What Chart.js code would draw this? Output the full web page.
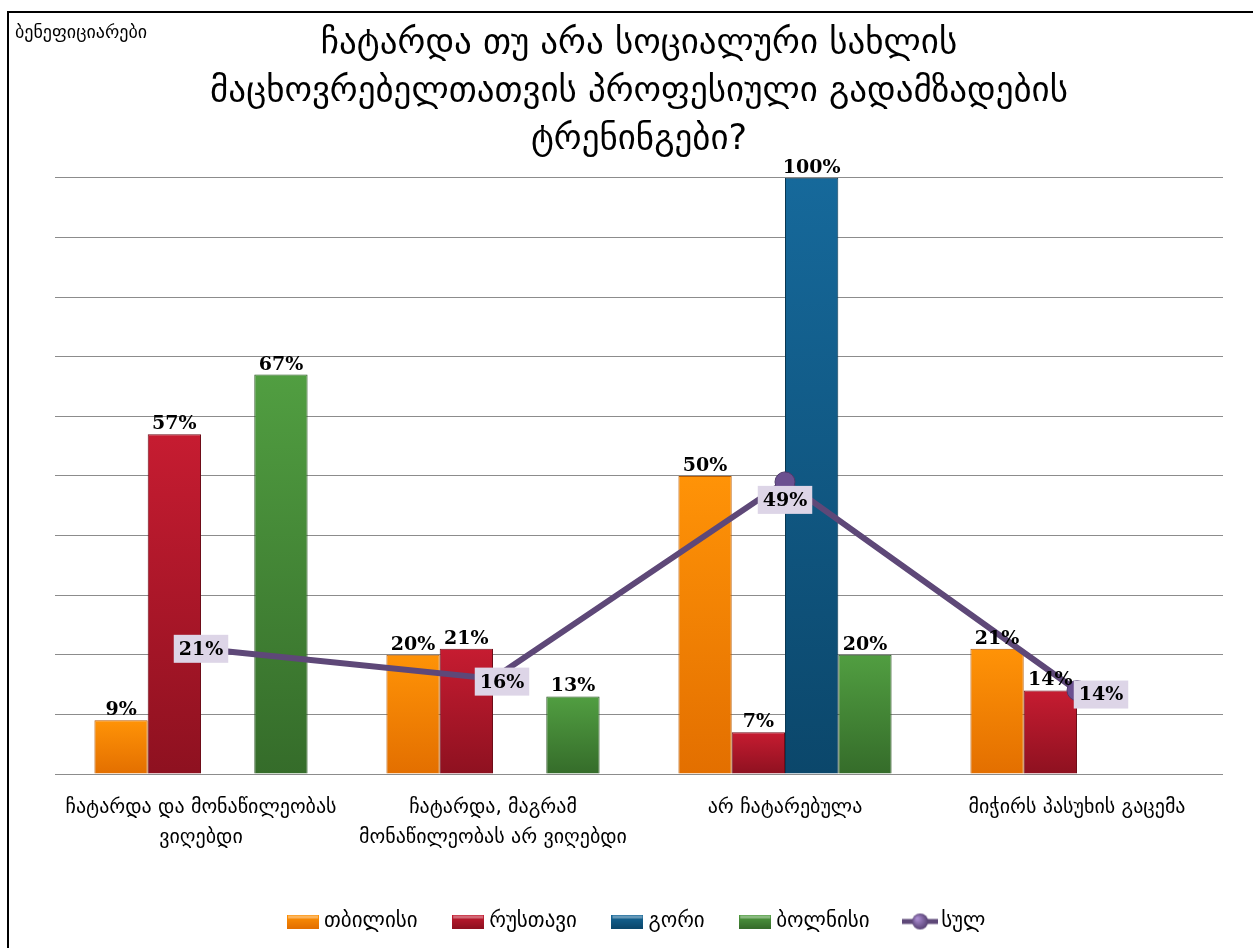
<!DOCTYPE html>
<html>
<head>
<meta charset="utf-8">
<script src="https://cdn.jsdelivr.net/npm/chart.js@4/dist/chart.umd.min.js"></script>
<style>
  html, body { margin: 0; padding: 0; background: #fff; }
  #wrap { position: relative; width: 1253px; height: 948px; overflow: hidden; }
  #frame { position: absolute; left: 7px; top: 11px; width: 1400px; height: 1000px;
           border-left: 2px solid #000; border-top: 2px solid #000; }
  #unit { position: absolute; left: 15px; top: 21px; font: 18px "DejaVu Sans"; color: #000; }
  canvas { position: absolute; left: 0; top: 0; }
</style>
</head>
<body>
<div id="wrap">
  <div id="frame"></div>
  <canvas id="graph" width="1253" height="948"></canvas>
  <div id="unit">ბენეფიციარები</div>
</div>
<script>
let categories = [
    ["ჩატარდა და მონაწილეობას", "ვიღებდი"],
    ["ჩატარდა, მაგრამ", "მონაწილეობას არ ვიღებდი"],
    "არ ჩატარებულა",
    "მიჭირს პასუხის გაცემა"
];
let titleLines = [
    "ჩატარდა თუ არა სოციალური სახლის",
    "მაცხოვრებელთათვის პროფესიული გადამზადების",
    "ტრენინგები?"
];
let tbilisi = [9, 20, 50, 21];
let rustavi = [57, 21, 7, 14];
let gori = [null, null, 100, null];
let bolnisi = [67, 13, 20, null];
let total = [21, 16, 49, 14];

// top / bottom / edge colour of each bar series
let barColors = {
    "თბილისი": ["#ff9307", "#e36f00", "#b85a00"],
    "რუსთავი": ["#c61c31", "#8e1120", "#6e0c18"],
    "გორი": ["#16699b", "#0b476b", "#083752"],
    "ბოლნისი": ["#519e41", "#356c2a", "#27531f"]
};
let lineColor = "#5e4878";

function barGradient(ctx){
    let chart = ctx.chart;
    let cols = barColors[ctx.dataset.label];
    let y = chart.scales.y;
    if(!y || ctx.raw == null) return cols[0];
    let top = y.getPixelForValue(ctx.raw);
    let base = y.getPixelForValue(0);
    if(!isFinite(top) || top === base) return cols[0];
    let g = chart.ctx.createLinearGradient(0, top, 0, base);
    g.addColorStop(0, cols[0]);
    g.addColorStop(1, cols[1]);
    return g;
}

function makeBar(label, values){
    return {
        type: "bar",
        label: label,
        data: values,
        order: 2,
        backgroundColor: barGradient,
        borderColor: barColors[label][2],
        borderWidth: 1,
        categoryPercentage: 0.73,
        barPercentage: 1
    };
}

function swatch(label){
    let c = document.createElement("canvas");
    c.width = 32; c.height = 14;
    let x = c.getContext("2d");
    let cols = barColors[label];
    let g = x.createLinearGradient(0, 0, 0, 14);
    g.addColorStop(0, cols[0]);
    g.addColorStop(1, cols[1]);
    x.fillStyle = g;
    x.fillRect(0, 0, 32, 14);
    x.fillStyle = "rgba(255,255,255,0.35)";
    x.fillRect(1, 1, 30, 3);
    return c;
}

function lineSwatch(){
    let c = document.createElement("canvas");
    c.width = 36; c.height = 18;
    let x = c.getContext("2d");
    x.strokeStyle = lineColor;
    x.lineWidth = 5;
    x.beginPath(); x.moveTo(0, 9); x.lineTo(36, 9); x.stroke();
    let g = x.createRadialGradient(15, 6, 1, 18, 9, 9);
    g.addColorStop(0, "#a98bcf");
    g.addColorStop(1, "#4f3a6b");
    x.fillStyle = g;
    x.beginPath(); x.arc(18, 9, 8, 0, Math.PI * 2); x.fill();
    return c;
}

// label offsets for the "total" line, relative to each point
let lineLabelShift = [[0, 0], [9, 3], [0, 18], [24, 4]];

const valueLabels = {
    id: "valueLabels",
    afterDatasetsDraw(chart){
        let ctx = chart.ctx;
        ctx.save();
        ctx.font = "bold 19px 'DejaVu Serif'";
        ctx.textAlign = "center";
        ctx.textBaseline = "middle";
        chart.data.datasets.forEach((ds, i) => {
            let meta = chart.getDatasetMeta(i);
            meta.data.forEach((el, j) => {
                let v = ds.data[j];
                if(v == null) return;
                let txt = v + "%";
                if(ds.type === "bar"){
                    ctx.fillStyle = "#000";
                    ctx.fillText(txt, el.x, el.y - 10);
                } else {
                    let sx = el.x + lineLabelShift[j][0];
                    let sy = el.y + lineLabelShift[j][1];
                    let w = ctx.measureText(txt).width + 10;
                    ctx.fillStyle = "#ddd5e7";
                    ctx.fillRect(sx - w / 2, sy - 14, w, 28);
                    ctx.fillStyle = "#000";
                    ctx.fillText(txt, sx, sy + 1);
                }
            });
        });
        ctx.restore();
    }
};

const data = {
    labels: categories,
    datasets: [
        {
            type: "line",
            label: "სულ",
            data: total,
            order: 0,
            borderColor: lineColor,
            borderWidth: 6,
            pointRadius: 10,
            pointBackgroundColor: "#6b5090",
            pointBorderColor: "#4f3a6b",
            pointBorderWidth: 1,
            tension: 0
        },
        makeBar("თბილისი", tbilisi),
        makeBar("რუსთავი", rustavi),
        makeBar("გორი", gori),
        makeBar("ბოლნისი", bolnisi)
    ]
};

const config = {
    type: "bar",
    data: data,
    options: {
        responsive: false,
        animation: false,
        layout: { padding: { left: 55, right: 30, top: 0, bottom: 6 } },
        plugins: {
            title: {
                display: true,
                text: titleLines,
                color: "#000",
                font: { family: "DejaVu Sans", size: 35, weight: "normal", lineHeight: 1.37 },
                padding: { top: 20, bottom: 14 }
            },
            legend: {
                position: "bottom",
                labels: {
                    usePointStyle: true,
                    color: "#000",
                    font: { family: "DejaVu Sans", size: 21 },
                    padding: 40,
                    sort: (a, b) => a.datasetIndex === 0 ? 1 : (b.datasetIndex === 0 ? -1 : a.datasetIndex - b.datasetIndex),
                    generateLabels(chart){
                        return chart.data.datasets.map((ds, i) => ({
                            text: ds.label,
                            datasetIndex: i,
                            fontColor: "#000",
                            pointStyle: ds.type === "line" ? lineSwatch() : swatch(ds.label),
                            hidden: false
                        }));
                    }
                }
            },
            tooltip: { enabled: false }
        },
        scales: {
            x: {
                grid: { display: false },
                border: { display: false },
                ticks: {
                    color: "#000",
                    padding: 11,
                    maxRotation: 0,
                    autoSkip: false,
                    font: { family: "DejaVu Sans", size: 20, lineHeight: 1.5 }
                },
                afterFit(scale){ scale.height = 97; }
            },
            y: {
                min: 0,
                max: 100,
                ticks: { display: false, stepSize: 10 },
                border: { display: false },
                grid: { color: "#8c8c8c", lineWidth: 1, drawTicks: false },
                afterFit(scale){ scale.width = 0; }
            }
        }
    },
    plugins: [valueLabels]
};

let myChart = new Chart(document.getElementById("graph"), config);
</script>
</body>
</html>
